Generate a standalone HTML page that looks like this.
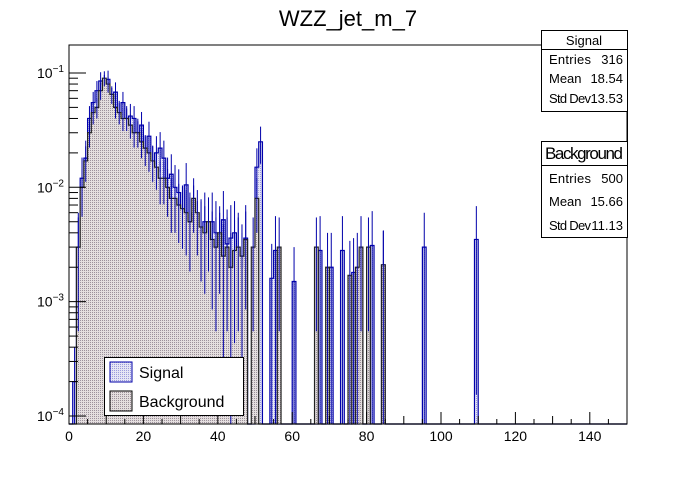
<!DOCTYPE html>
<html><head><meta charset="utf-8"><style>
body{margin:0;background:#fff;font-family:"Liberation Sans",sans-serif}
svg text{font-family:"Liberation Sans",sans-serif}
</style></head><body>
<svg id="c" width="696" height="472">
<defs>
<pattern id="pb" width="2" height="2" patternUnits="userSpaceOnUse"><rect width="2" height="2" fill="#e6e6f4"/><rect width="1" height="1" fill="#9c9cdc"/></pattern>
<pattern id="pr" width="2" height="2" patternUnits="userSpaceOnUse"><rect width="2" height="2" fill="#e4dede"/><rect width="1" height="1" fill="#9c909a"/></pattern>
</defs>
<g id="plot"></g>
<rect x="69" y="45" width="558" height="379" fill="none" stroke="#000" stroke-width="1"/>
<g id="axes"></g>
<text x="348" y="26" font-size="22" text-anchor="middle">WZZ_jet_m_7</text>
<g>
<rect x="541.5" y="30.5" width="86" height="81" fill="#fff" stroke="#000"/>
<line x1="541.5" y1="49.5" x2="627.5" y2="49.5" stroke="#000"/>
<text x="584" y="45" font-size="13" text-anchor="middle">Signal</text>
<text x="549" y="64" font-size="13" textLength="42">Entries</text><text x="623" y="64" font-size="13" text-anchor="end">316</text>
<text x="549" y="83" font-size="13">Mean</text><text x="623" y="83" font-size="13" text-anchor="end">18.54</text>
<text x="549" y="103" font-size="13" textLength="42">Std Dev</text><text x="623" y="103" font-size="13" text-anchor="end">13.53</text>
</g>
<line x1="627.5" y1="111" x2="627.5" y2="141" stroke="#000"/>
<g>
<rect x="541.5" y="141.5" width="86" height="96" fill="#fff" stroke="#000"/>
<line x1="541.5" y1="165.5" x2="627.5" y2="165.5" stroke="#000"/>
<text x="584" y="159" font-size="17" text-anchor="middle" textLength="78">Background</text>
<text x="549" y="183" font-size="13" textLength="42">Entries</text><text x="623" y="183" font-size="13" text-anchor="end">500</text>
<text x="549" y="206" font-size="13">Mean</text><text x="623" y="206" font-size="13" text-anchor="end">15.66</text>
<text x="549" y="230" font-size="13" textLength="42">Std Dev</text><text x="623" y="230" font-size="13" text-anchor="end">11.13</text>
</g>
<g>
<rect x="104.5" y="357.5" width="139" height="58" fill="#fff" stroke="#000"/>
<rect x="110" y="362" width="22" height="20" fill="url(#pb)" stroke="#0000aa"/>
<text x="139" y="378" font-size="16">Signal</text>
<rect x="110" y="391" width="22" height="20" fill="url(#pr)" stroke="#000"/>
<text x="139" y="407" font-size="16">Background</text>
</g>
</svg>
<script>
const signalDense=[0,0.0002,0.003,0.012,0.018,0.04,0.055,0.07,0.085,0.08,0.088,0.06,0.068,0.045,0.055,0.04,0.042,0.04,0.03,0.035,0.02,0.028,0.016,0.02,0.022,0.018,0.012,0.013,0.01,0.009,0.006,0.0105,0.005,0.006,0.004,0.0042,0.005,0.003,0.005,0.004,0.003,0.0052,0.0032,0.0036,0.004,0.003,0.002,0.0036];
const backgroundDense=[0,0,0.003,0.01,0.017,0.03,0.045,0.05,0.07,0.09,0.08,0.065,0.05,0.045,0.04,0.04,0.035,0.03,0.03,0.025,0.022,0.02,0.017,0.015,0.012,0.012,0.01,0.008,0.008,0.007,0.0065,0.006,0.005,0.008,0.006,0.0045,0.004,0.005,0.0035,0.003,0.004,0.0025,0.003,0.002,0.0028,0.003,0.0025,0.0035];
const signalSparseBins=[50,51,54,55,60,67,70,73,76,78,81,84,95,109];
const signalSparseVals=[0.015,0.025,0.0016,0.0028,0.0015,0.0028,0.002,0.0028,0.0018,0.0028,0.0031,0.0021,0.003,0.0035];
const backgroundSparseBins=[49,50,56,66,69,75,77,78,80,84];
const backgroundSparseVals=[0.003,0.008,0.003,0.003,0.002,0.0017,0.002,0.003,0.003,0.0021];
const xTicks=[0,20,40,60,80,100,120,140];
const yDecades=[-1,-2,-3,-4];

const X0=69,X1=627,XMAX=150,Y0=424,Y1=45;
const LTOP=-1+28/114.5,LBOT=-4-8/114.5;
const xs=v=>X0+v/XMAX*(X1-X0);
const ys=v=>Y0-(Math.log10(v)-LBOT)/(LTOP-LBOT)*(Y0-Y1);
const NS='http://www.w3.org/2000/svg';
function mk(t,a,p){const e=document.createElementNS(NS,t);for(const k in a)e.setAttribute(k,a[k]);p.appendChild(e);return e;}
const plot=document.getElementById('plot'),axes=document.getElementById('axes');
function full(dense,bins,vals){const a=new Array(150).fill(0);dense.forEach((v,i)=>a[i]=v);bins.forEach((b,i)=>a[b]=vals[i]);return a;}
const sig=full(signalDense,signalSparseBins,signalSparseVals);
const bkg=full(backgroundDense,backgroundSparseBins,backgroundSparseVals);
function yOf(v){return v>0?Math.min(Y0,Math.max(Y1,ys(v))):Y0;}
function drawHist(arr,fill,stroke,name,relN){
  const g=mk('g',{},plot);
  
  
  arr.forEach((v,i)=>{
    if(v<=0)return;
    const x=xs(i),w=xs(i+1)-x,y=yOf(v);
    const r=mk('rect',{x:x,y:y,width:w,height:Y0-y,fill:fill},g);
    
    
  });
  // step outline
  let d='M'+xs(0)+','+Y0;
  arr.forEach((v,i)=>{const y=yOf(v);d+=' L'+xs(i)+','+y+' L'+xs(i+1)+','+y;});
  d+=' L'+xs(arr.length)+','+Y0;
  const p=mk('path',{d:d,fill:'none',stroke:stroke,'stroke-width':1.2},g);
  
  
  arr.forEach((v,i)=>{
    if(v<=0)return;
    const x=xs(i),w=xs(i+1)-x;
    const f=Math.min(0.999,Math.sqrt(relN/v));
    const e=mk('line',{x1:x+w/2,x2:x+w/2,y1:Math.max(Y1,ys(v*(1+f))),y2:Math.min(Y0,ys(v*(1-f))),stroke:'#0000aa','stroke-width':1},g);
    
    
  });
}
drawHist(sig,'url(#pb)','#0000aa','signal-histogram',0.0032);
drawHist(bkg,'url(#pr)','#222','background-histogram',0.002);
for(let v=0;v<=XMAX;v+=5){
  const len=v%20===0?12:(v%10===0?8:5);
  mk('line',{x1:xs(v),x2:xs(v),y1:Y0,y2:Y0-len,stroke:'#000'},axes);
}
xTicks.forEach(v=>{
  const t=mk('text',{x:xs(v),y:441,'font-size':14,'text-anchor':'middle'},axes);
  t.textContent=v;
  
  
});
yDecades.forEach(d=>{
  mk('line',{x1:X0,x2:X0+17,y1:ys(Math.pow(10,d)),y2:ys(Math.pow(10,d)),stroke:'#000'},axes);
  for(let m=2;m<=9;m++){const yy=ys(m*Math.pow(10,d));if(yy>=Y1)mk('line',{x1:X0,x2:X0+9,y1:yy,y2:yy,stroke:'#000'},axes);}
  const t=mk('text',{x:37,y:ys(Math.pow(10,d))+5,'font-size':14},axes);
  
  
  t.textContent='10';
  const s=mk('tspan',{dy:-6,'font-size':10},t);s.textContent='\u2212'+(-d);
});
</script>
</body></html>
